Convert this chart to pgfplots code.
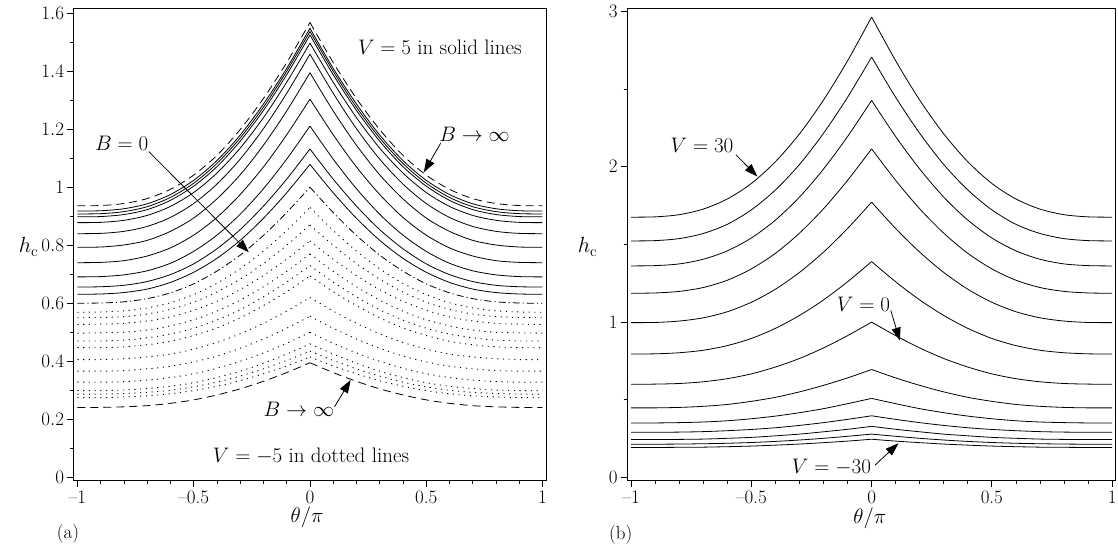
\RequirePackage{fix-cm}
\documentclass[border=0pt]{standalone}
\usepackage{pgfplots}
\usepackage{pgfplotstable}
\pgfplotsset{compat=1.18}
\usetikzlibrary{arrows.meta}

\pgfplotstableread{
x dt s1 s2 s3 s4 s5 s6 s7 s8 s9 s10 b0
-1.0 0.936 0.918 0.908 0.898 0.878 0.840 0.793 0.740 0.691 0.656 0.631 0.600
-0.9 0.937 0.919 0.909 0.899 0.879 0.841 0.794 0.741 0.692 0.657 0.632 0.601
-0.8 0.944 0.926 0.916 0.906 0.886 0.848 0.801 0.747 0.698 0.662 0.637 0.605
-0.7 0.961 0.943 0.933 0.923 0.903 0.865 0.817 0.763 0.712 0.675 0.649 0.616
-0.6 0.993 0.975 0.965 0.955 0.934 0.896 0.848 0.791 0.738 0.699 0.672 0.636
-0.5 1.042 1.024 1.014 1.004 0.982 0.944 0.894 0.835 0.779 0.736 0.707 0.667
-0.4 1.110 1.092 1.082 1.071 1.049 1.011 0.960 0.896 0.835 0.788 0.755 0.711
-0.3 1.199 1.180 1.170 1.159 1.135 1.097 1.043 0.975 0.907 0.854 0.817 0.766
-0.2 1.306 1.287 1.276 1.265 1.240 1.202 1.145 1.070 0.995 0.935 0.893 0.834
-0.1 1.430 1.410 1.400 1.388 1.362 1.324 1.263 1.181 1.097 1.028 0.981 0.913
0.0 1.568 1.548 1.537 1.525 1.497 1.459 1.395 1.304 1.211 1.132 1.079 1.000
0.1 1.430 1.410 1.400 1.388 1.362 1.324 1.263 1.181 1.097 1.028 0.981 0.913
0.2 1.306 1.287 1.276 1.265 1.240 1.202 1.145 1.070 0.995 0.935 0.893 0.834
0.3 1.199 1.180 1.170 1.159 1.135 1.097 1.043 0.975 0.907 0.854 0.817 0.766
0.4 1.110 1.092 1.082 1.071 1.049 1.011 0.960 0.896 0.835 0.788 0.755 0.711
0.5 1.042 1.024 1.014 1.004 0.982 0.944 0.894 0.835 0.779 0.736 0.707 0.667
0.6 0.993 0.975 0.965 0.955 0.934 0.896 0.848 0.791 0.738 0.699 0.672 0.636
0.7 0.961 0.943 0.933 0.923 0.903 0.865 0.817 0.763 0.712 0.675 0.649 0.616
0.8 0.944 0.926 0.916 0.906 0.886 0.848 0.801 0.747 0.698 0.662 0.637 0.605
0.9 0.937 0.919 0.909 0.899 0.879 0.841 0.794 0.741 0.692 0.657 0.632 0.601
1.0 0.936 0.918 0.908 0.898 0.878 0.840 0.793 0.740 0.691 0.656 0.631 0.600
}\tblAs

\pgfplotstableread{
x d1 d2 d3 d4 d5 d6 d7 d8 d9 d10 d11 d12 db
-1.0 0.569 0.550 0.527 0.497 0.470 0.447 0.406 0.366 0.328 0.299 0.287 0.275 0.241
-0.9 0.570 0.551 0.528 0.498 0.470 0.447 0.406 0.366 0.328 0.299 0.287 0.275 0.241
-0.8 0.574 0.554 0.531 0.500 0.473 0.450 0.409 0.368 0.330 0.301 0.289 0.277 0.243
-0.7 0.584 0.563 0.539 0.508 0.481 0.457 0.415 0.374 0.335 0.306 0.293 0.281 0.247
-0.6 0.602 0.579 0.553 0.522 0.494 0.469 0.425 0.383 0.344 0.314 0.300 0.288 0.255
-0.5 0.630 0.604 0.576 0.543 0.514 0.489 0.442 0.398 0.357 0.326 0.312 0.299 0.267
-0.4 0.669 0.639 0.607 0.573 0.542 0.515 0.465 0.418 0.376 0.344 0.328 0.314 0.284
-0.3 0.719 0.683 0.647 0.611 0.578 0.550 0.495 0.445 0.400 0.366 0.349 0.333 0.305
-0.2 0.780 0.737 0.696 0.657 0.622 0.592 0.531 0.477 0.429 0.393 0.374 0.357 0.331
-0.1 0.851 0.800 0.752 0.710 0.673 0.640 0.573 0.514 0.462 0.425 0.403 0.384 0.361
0.0 0.930 0.870 0.815 0.770 0.730 0.694 0.620 0.555 0.500 0.460 0.435 0.415 0.395
0.1 0.851 0.800 0.752 0.710 0.673 0.640 0.573 0.514 0.462 0.425 0.403 0.384 0.361
0.2 0.780 0.737 0.696 0.657 0.622 0.592 0.531 0.477 0.429 0.393 0.374 0.357 0.331
0.3 0.719 0.683 0.647 0.611 0.578 0.550 0.495 0.445 0.400 0.366 0.349 0.333 0.305
0.4 0.669 0.639 0.607 0.573 0.542 0.515 0.465 0.418 0.376 0.344 0.328 0.314 0.284
0.5 0.630 0.604 0.576 0.543 0.514 0.489 0.442 0.398 0.357 0.326 0.312 0.299 0.267
0.6 0.602 0.579 0.553 0.522 0.494 0.469 0.425 0.383 0.344 0.314 0.300 0.288 0.255
0.7 0.584 0.563 0.539 0.508 0.481 0.457 0.415 0.374 0.335 0.306 0.293 0.281 0.247
0.8 0.574 0.554 0.531 0.500 0.473 0.450 0.409 0.368 0.330 0.301 0.289 0.277 0.243
0.9 0.570 0.551 0.528 0.498 0.470 0.447 0.406 0.366 0.328 0.299 0.287 0.275 0.241
1.0 0.569 0.550 0.527 0.497 0.470 0.447 0.406 0.366 0.328 0.299 0.287 0.275 0.241
}\tblAd

\pgfplotstableread{
x v30 v25 v20 v15 v10 v5 v0 vm5 vm10 vm15 vm20 vm25 vm30
-1.0 1.675 1.522 1.361 1.185 0.996 0.794 0.599 0.447 0.350 0.290 0.243 0.213 0.192
-0.9 1.677 1.524 1.363 1.187 0.997 0.795 0.600 0.447 0.350 0.290 0.243 0.213 0.192
-0.8 1.691 1.537 1.374 1.197 1.006 0.802 0.604 0.450 0.352 0.291 0.244 0.214 0.193
-0.7 1.727 1.570 1.404 1.222 1.027 0.818 0.615 0.457 0.356 0.294 0.246 0.216 0.194
-0.6 1.792 1.629 1.458 1.269 1.066 0.848 0.635 0.469 0.364 0.300 0.251 0.219 0.197
-0.5 1.892 1.722 1.541 1.342 1.127 0.894 0.666 0.489 0.377 0.308 0.257 0.224 0.201
-0.4 2.032 1.850 1.656 1.442 1.211 0.959 0.710 0.515 0.394 0.319 0.267 0.231 0.207
-0.3 2.211 2.014 1.804 1.572 1.319 1.042 0.765 0.550 0.416 0.334 0.278 0.240 0.214
-0.2 2.429 2.215 1.985 1.729 1.450 1.142 0.833 0.592 0.442 0.352 0.293 0.251 0.223
-0.1 2.682 2.447 2.194 1.912 1.602 1.259 0.912 0.640 0.474 0.373 0.309 0.264 0.233
0.0 2.964 2.706 2.427 2.115 1.772 1.389 0.999 0.694 0.508 0.396 0.328 0.278 0.245
0.1 2.682 2.447 2.194 1.912 1.602 1.259 0.912 0.640 0.474 0.373 0.309 0.264 0.233
0.2 2.429 2.215 1.985 1.729 1.450 1.142 0.833 0.592 0.442 0.352 0.293 0.251 0.223
0.3 2.211 2.014 1.804 1.572 1.319 1.042 0.765 0.550 0.416 0.334 0.278 0.240 0.214
0.4 2.032 1.850 1.656 1.442 1.211 0.959 0.710 0.515 0.394 0.319 0.267 0.231 0.207
0.5 1.892 1.722 1.541 1.342 1.127 0.894 0.666 0.489 0.377 0.308 0.257 0.224 0.201
0.6 1.792 1.629 1.458 1.269 1.066 0.848 0.635 0.469 0.364 0.300 0.251 0.219 0.197
0.7 1.727 1.570 1.404 1.222 1.027 0.818 0.615 0.457 0.356 0.294 0.246 0.216 0.194
0.8 1.691 1.537 1.374 1.197 1.006 0.802 0.604 0.450 0.352 0.291 0.244 0.214 0.193
0.9 1.677 1.524 1.363 1.187 0.997 0.795 0.600 0.447 0.350 0.290 0.243 0.213 0.192
1.0 1.675 1.522 1.361 1.185 0.996 0.794 0.599 0.447 0.350 0.290 0.243 0.213 0.192
}\tblB

\tikzset{
  anno/.style={font=\fontsize{21}{21}\selectfont},
  arr/.style={black, line width=0.8pt, -{Triangle[length=13pt,width=9pt]}},
}
\pgfplotsset{
  panel/.style={
    scale only axis,
    anchor=south west,
    axis line style={line width=0.9pt},
    tick align=outside,
    xtick pos=left, ytick pos=left,
    major tick length=6pt, minor tick length=3.5pt,
    every tick/.style={line width=0.8pt, black},
    tick label style={font=\fontsize{19}{19}\selectfont},
    xticklabel style={inner sep=1pt, yshift=-3pt},
    label style={font=\fontsize{21}{21}\selectfont},
    xtick={-1,-0.5,0,0.5,1},
    xticklabels={\mbox{\textendash}1,\mbox{\textendash}0.5,0,0.5,1},
    minor x tick num=4,
    minor y tick num=1,
    xlabel={$\theta/\pi$},
    ylabel={$h_{\mathrm{c}}$},
    ylabel style={rotate=-90, anchor=center, inner sep=0pt, font=\fontsize{22}{22}\selectfont},
    xlabel style={anchor=center, inner sep=0pt},
    clip=false,
  },
  crv/.style={black, line width=0.8pt, line join=miter, smooth},
}
% each curve: left half and right half, so that the cusp at 0 stays sharp
\newcommand{\halves}[3]{%
  \addplot[crv, #1, restrict x to domain=-1:0] table[x=x,y=#2]{#3};
  \addplot[crv, #1, restrict x to domain=0:1] table[x=x,y=#2]{#3};
}

\begin{document}
\begin{tikzpicture}
\path[use as bounding box] (0,0) rectangle (1118pt,552pt);

\begin{axis}[panel, at={(73.5pt,71.3pt)}, width=472.9pt, height=472.4pt,
  xmin=-1.017, xmax=1.017, ymin=-0.0117, ymax=1.617,
  ytick={0,0.2,0.4,0.6,0.8,1,1.2,1.4,1.6},
  xlabel style={at={(axis description cs:0.494,-0.0765)}},
  ylabel style={at={(axis description cs:-0.095,0.4953)}}]
\halves{dash pattern=on 8pt off 5pt}{dt}{\tblAs}
\pgfplotsinvokeforeach{s1,s2,s3,s4,s5,s6,s7,s8,s9,s10}{
  \halves{solid}{#1}{\tblAs}
}
\halves{dash pattern=on 7pt off 3pt on 1.2pt off 3pt}{b0}{\tblAs}
\pgfplotsinvokeforeach{d1,d2,d3,d4,d5,d6,d7,d8,d9,d10,d11,d12}{
  \halves{line width=0.9pt, dash pattern=on 1.1pt off 4.6pt}{#1}{\tblAd}
}
\halves{dash pattern=on 8pt off 5pt}{db}{\tblAd}

\node[anno, anchor=base] at (axis cs:0.559,1.4577) {$V=5$ in solid lines};
\node[anno, anchor=base] at (axis cs:-0.810,1.126) {$B=0$};
\draw[arr] (axis cs:-0.693,1.1228) -- (axis cs:-0.2628,0.7759);
\node[anno, anchor=base] at (axis cs:0.708,1.157) {$B\to\infty$};
\draw[arr] (axis cs:0.562,1.1517) -- (axis cs:0.490,1.0517);
\node[anno, anchor=base] at (axis cs:-0.0477,0.209) {$B\to\infty$};
\draw[arr] (axis cs:0.1058,0.2434) -- (axis cs:0.175,0.3355);
\node[anno, anchor=base] at (axis cs:0.0047,0.0503) {$V=-5$ in dotted lines};
\node[font=\fontsize{19}{19}\selectfont] at (axis description cs:-0.0118,-0.1128) {(a)};
\end{axis}

\begin{axis}[panel, at={(627pt,71.3pt)}, width=488pt, height=472.4pt,
  xmin=-1.017, xmax=1.012, ymin=-0.022, ymax=3.02,
  ytick={0,1,2,3},
  xlabel style={at={(axis description cs:0.4977,-0.0795)}},
  ylabel style={at={(axis description cs:-0.0807,0.4953)}}]
\pgfplotsinvokeforeach{v30,v25,v20,v15,v10,v5,v0,vm5,vm10,vm15,vm20,vm25,vm30}{
  \halves{solid}{#1}{\tblB}
}
\node[anno, anchor=base] at (axis cs:-0.705,2.0915) {$V=30$};
\draw[arr] (axis cs:-0.564,2.0767) -- (axis cs:-0.475,1.937);
\node[anno, anchor=base] at (axis cs:-0.034,1.067) {$V=0$};
\draw[arr] (axis cs:0.0798,1.0735) -- (axis cs:0.1176,0.880);
\node[anno, anchor=base] at (axis cs:-0.167,0.0213) {$V=-30$};
\draw[arr] (axis cs:0.015,0.0793) -- (axis cs:0.1114,0.219);
\node[font=\fontsize{19}{19}\selectfont] at (axis description cs:-0.0129,-0.1139) {(b)};
\end{axis}
\end{tikzpicture}
\end{document}
